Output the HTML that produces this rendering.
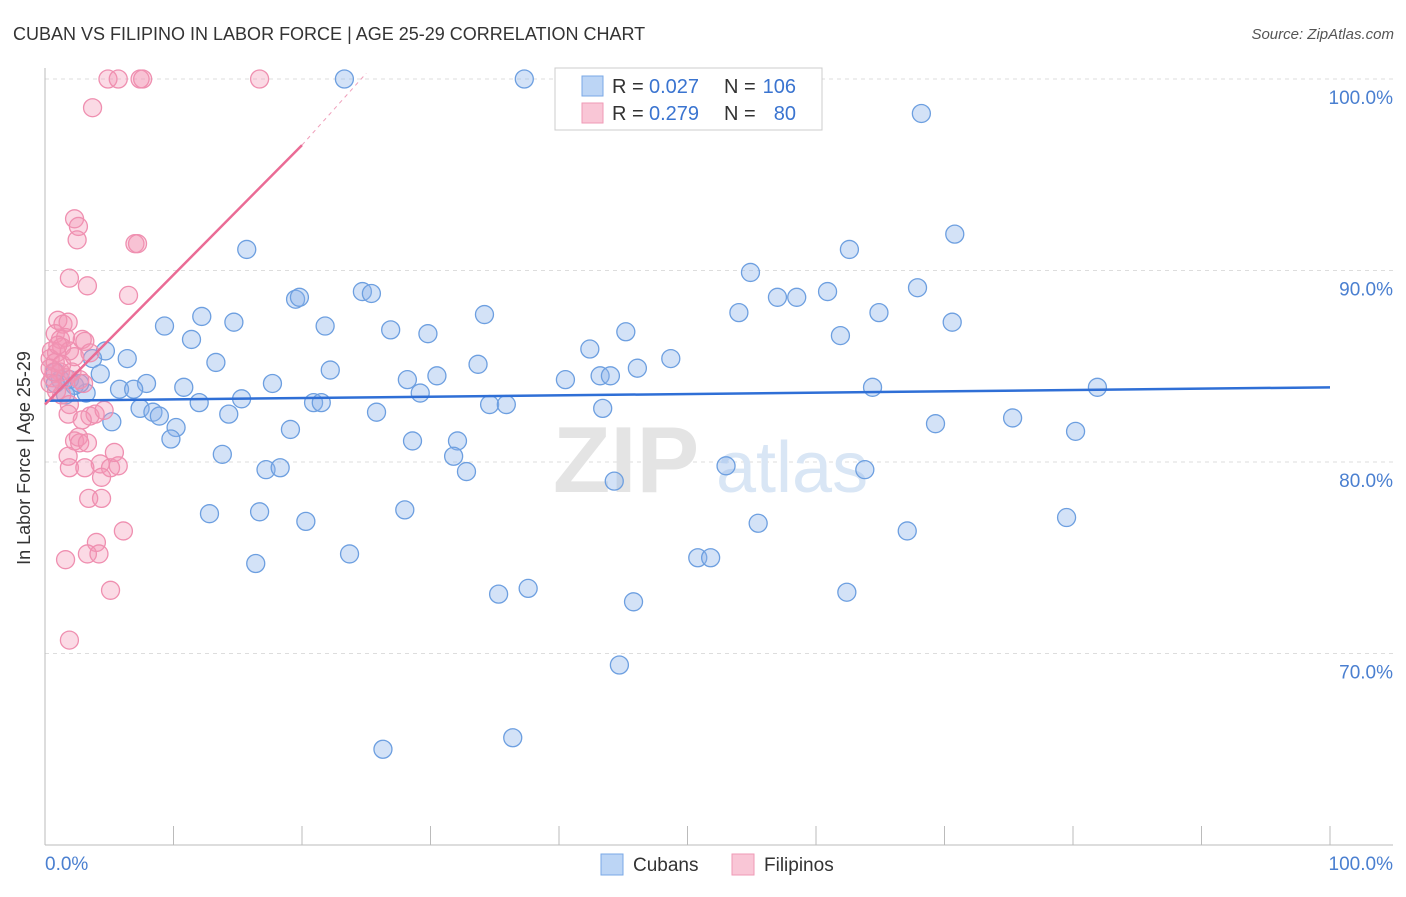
<!DOCTYPE html>
<html><head><meta charset="utf-8"><style>
body{margin:0;background:#fff;font-family:"Liberation Sans",sans-serif}
svg text{font-family:"Liberation Sans",sans-serif}
</style></head><body>
<svg width="1406" height="892" xmlns="http://www.w3.org/2000/svg">
<text x="13" y="40" font-size="18" fill="#333">CUBAN VS FILIPINO IN LABOR FORCE | AGE 25-29 CORRELATION CHART</text>
<text x="1394" y="39" font-size="15" fill="#555" font-style="italic" text-anchor="end">Source: ZipAtlas.com</text>
<g id="grid"></g>
<g><text x="553" y="492" font-size="94" fill="#e4e4e4" font-family="Liberation Serif" font-weight="bold">ZIP</text><text x="716" y="492" font-size="72" fill="#d9e6f5">atlas</text></g>
<g id="axes"></g>
<g id="pts"></g>
<g id="trend"></g>
<text x="30" y="458" font-size="18" fill="#333" text-anchor="middle" transform="rotate(-90 30 458)">In Labor Force | Age 25-29</text>
<text x="45" y="870" font-size="19" fill="#4a7fd0">0.0%</text>
<text x="1393" y="870" font-size="19" fill="#4a7fd0" text-anchor="end">100.0%</text>
<g>
<rect x="555" y="68" width="267" height="62" fill="#fff" stroke="#ccc"/>
<rect x="582" y="76" width="21" height="20" fill="#bcd5f5" stroke="#7aa8e6"/>
<rect x="582" y="103" width="21" height="20" fill="#f9c6d6" stroke="#ef9ab6"/>
<text x="612" y="93" font-size="20" fill="#333">R =</text>
<text x="649" y="93" font-size="20" fill="#3a74d0">0.027</text>
<text x="724" y="93" font-size="20" fill="#333">N =</text>
<text x="796" y="93" font-size="20" fill="#3a74d0" text-anchor="end">106</text>
<text x="612" y="120" font-size="20" fill="#333">R =</text>
<text x="649" y="120" font-size="20" fill="#3a74d0">0.279</text>
<text x="724" y="120" font-size="20" fill="#333">N =</text>
<text x="796" y="120" font-size="20" fill="#3a74d0" text-anchor="end">80</text>
</g>
<g>
<rect x="601" y="854" width="22" height="21" fill="#bcd5f5" stroke="#7aa8e6"/>
<text x="633" y="871" font-size="19" fill="#333">Cubans</text>
<rect x="732" y="854" width="22" height="21" fill="#f9c6d6" stroke="#ef9ab6"/>
<text x="764" y="871" font-size="19" fill="#333">Filipinos</text>
</g>
</svg>
<script>
const yTicks=[100,90,80,70];
const yTickLabels=["100.0%","90.0%","80.0%","70.0%"];
const xTicks=[0,10,20,30,40,50,60,70,80,90,100];
const cubanX=[23.3,37.3,68.2,15.7,70.8,62.6,54.9,19.5,19.8,24.7,25.4,57.0,58.5,60.9,67.9,9.3,12.2,14.7,21.8,26.9,29.8,34.2,54.0,64.9,70.6,11.4,45.2,61.9,42.4,4.7,3.7,6.4,13.3,33.7,48.7,4.3,22.2,30.5,40.5,43.2,44.0,46.1,7.9,5.8,6.9,10.8,17.7,28.2,29.2,64.4,81.9,3.2,12.0,15.3,20.9,21.5,34.6,35.9,7.4,8.4,8.9,14.3,25.8,43.4,5.2,10.2,19.1,69.3,75.3,80.2,9.8,28.6,32.1,31.8,13.8,32.8,17.2,18.3,53.0,63.8,44.3,12.8,16.7,20.3,28.0,55.5,67.1,79.5,23.7,16.4,50.8,51.8,37.6,35.3,45.8,62.4,44.7,26.3,36.4,1.2,1.9,0.8,2.3,2.7,1.6,0.8];
const cubanY=[100,100,98.2,91.1,91.9,91.1,89.9,88.5,88.6,88.9,88.8,88.6,88.6,88.9,89.1,87.1,87.6,87.3,87.1,86.9,86.7,87.7,87.8,87.8,87.3,86.4,86.8,86.6,85.9,85.8,85.4,85.4,85.2,85.1,85.4,84.6,84.8,84.5,84.3,84.5,84.5,84.9,84.1,83.8,83.8,83.9,84.1,84.3,83.6,83.9,83.9,83.6,83.1,83.3,83.1,83.1,83.0,83.0,82.8,82.6,82.4,82.5,82.6,82.8,82.1,81.8,81.7,82.0,82.3,81.6,81.2,81.1,81.1,80.3,80.4,79.5,79.6,79.7,79.8,79.6,79.0,77.3,77.4,76.9,77.5,76.8,76.4,77.1,75.2,74.7,75.0,75.0,73.4,73.1,72.7,73.2,69.4,65.0,65.6,84.3,84.3,84.7,84.0,84.1,83.5,84.1];
const filX=[4.9,5.7,7.4,7.6,16.7,3.7,2.3,2.6,2.5,7.0,7.2,1.9,3.3,6.5,1.0,1.4,1.8,0.8,1.2,1.6,2.9,3.1,0.5,0.9,1.3,1.9,3.5,0.4,0.8,0.4,1.2,2.1,0.6,1.6,2.7,3.0,0.9,1.3,1.9,1.8,3.5,3.9,4.6,2.9,2.3,2.6,2.7,3.3,1.8,4.3,5.1,5.7,1.9,3.1,5.4,4.4,3.4,4.4,6.1,4.0,3.3,4.2,1.6,5.1,1.9,1.3,2.3,1.0,0.4,0.7];
const filY=[100,100,100,100,100,98.5,92.7,92.3,91.6,91.4,91.4,89.6,89.2,88.7,87.4,87.2,87.3,86.7,86.4,86.5,86.4,86.3,85.8,85.7,86.0,85.8,85.7,85.4,85.2,84.9,84.7,84.7,84.4,84.4,84.3,84.1,83.7,83.5,83.0,82.5,82.4,82.5,82.7,82.2,81.1,81.3,81.0,81.0,80.3,79.9,79.7,79.8,79.7,79.7,80.5,79.2,78.1,78.1,76.4,75.8,75.2,75.2,74.9,73.3,70.7,85.1,85.5,86.1,84.1,84.7];
const cubanTrend=[83.2,83.9];
const filTrend=[83.0,96.55,100.3];

const NS="http://www.w3.org/2000/svg";
const X=v=>45+v*12.85, Y=v=>79+(100-v)*19.15;
function mk(t,a,p){const e=document.createElementNS(NS,t);for(const k in a)e.setAttribute(k,a[k]);p.appendChild(e);return e;}
const grid=document.getElementById('grid'),axes=document.getElementById('axes'),pts=document.getElementById('pts'),tr=document.getElementById('trend');
yTicks.forEach((v,i)=>{
 const l=mk('line',{x1:45,x2:1393,y1:Y(v),y2:Y(v),stroke:'#ddd','stroke-dasharray':'4,4'},grid);
 
 
 const t=mk('text',{x:1393,y:Y(v)+25,'font-size':19,fill:'#4a7fd0','text-anchor':'end'},grid);
 t.textContent=yTickLabels[i];
 
 
});
mk('line',{x1:45,x2:45,y1:68,y2:845,stroke:'#bbb'},axes);
mk('line',{x1:45,x2:1393,y1:845,y2:845,stroke:'#bbb'},axes);
xTicks.forEach(v=>{
 const l=mk('line',{x1:X(v),x2:X(v),y1:826,y2:845,stroke:'#bbb'},axes);
 
 
});
function dots(xs,ys,fill,stroke,name){
 xs.forEach((x,i)=>{
  const c=mk('circle',{cx:X(x),cy:Y(ys[i]),r:9,fill:fill,stroke:stroke,'stroke-width':1.3},pts);
  
  
 });
}
dots(cubanX,cubanY,'rgba(140,180,235,0.38)','#6d9fe0','cuban-point');
dots(filX,filY,'rgba(244,150,180,0.35)','#ef8fb0','filipino-point');
const bl=mk('line',{x1:X(0),y1:Y(cubanTrend[0]),x2:X(100),y2:Y(cubanTrend[1]),stroke:'#2f6fd6','stroke-width':2.5},tr);


const pl=mk('line',{x1:X(0),y1:Y(filTrend[0]),x2:X(20),y2:Y(filTrend[1]),stroke:'#ea6b95','stroke-width':2.5},tr);


const pd=mk('line',{x1:X(20),y1:Y(filTrend[1]),x2:X(25),y2:Y(filTrend[2]),stroke:'#f0a0bb','stroke-width':1,'stroke-dasharray':'4,4'},tr);


</script>
</body></html>
